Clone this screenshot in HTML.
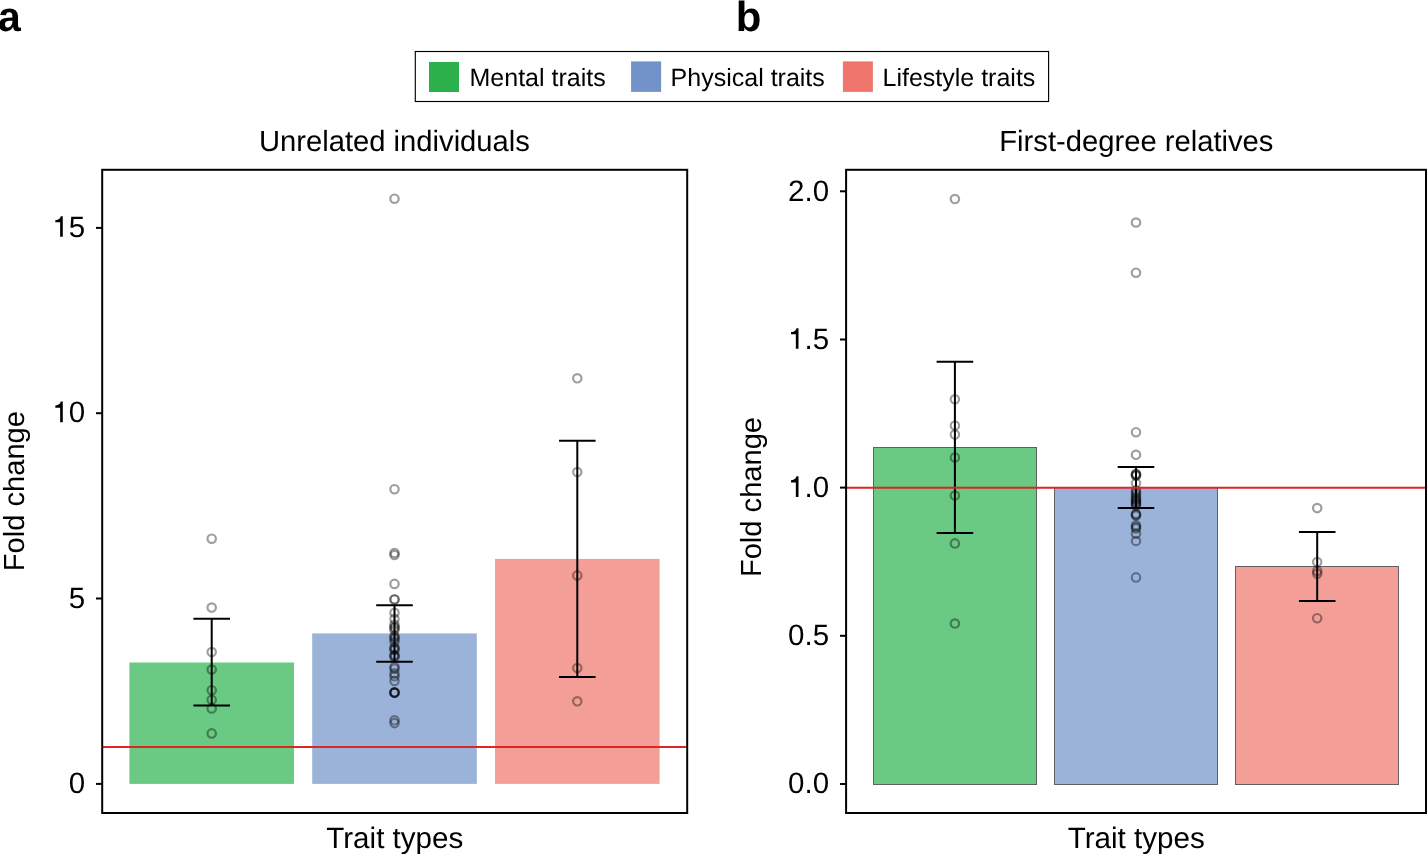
<!DOCTYPE html>
<html><head><meta charset="utf-8"><title>Fold change by trait type</title>
<style>html,body{margin:0;padding:0;background:#fff;width:1427px;height:854px;overflow:hidden}svg{display:block;will-change:transform;text-rendering:geometricPrecision}</style>
</head><body>
<svg width="1427" height="854" viewBox="0 0 1427 854" font-family='"Liberation Sans", sans-serif' fill="#000">
<rect width="1427" height="854" fill="#fff"/>
<text transform="translate(-2.0,30.6) scale(0.975,1)" font-size="42" font-weight="bold">a</text>
<text x="735.8" y="30.6" font-size="42" text-anchor="start" font-weight="bold" >b</text>
<rect x="415.3" y="51.5" width="633.3" height="50" fill="none" stroke="#000" stroke-width="1.15"/>
<rect x="429" y="62" width="30" height="30" fill="#2bb04b"/>
<rect x="631.1" y="61.4" width="30" height="30.5" fill="#7193c9"/>
<rect x="842.9" y="61.4" width="30" height="30.5" fill="#f0756d"/>
<text x="469.5" y="86" font-size="25" text-anchor="start" font-weight="normal" >Mental traits</text>
<text x="670.6" y="86" font-size="25" text-anchor="start" font-weight="normal" >Physical traits</text>
<text x="882.5" y="86" font-size="25" text-anchor="start" font-weight="normal" >Lifestyle traits</text>
<text x="258.94" y="150.8" font-size="29.2" text-anchor="start" font-weight="normal" >Unrelated individuals</text>
<text x="326.27" y="847.5" font-size="29.6" text-anchor="start" font-weight="normal" >Trait types</text>
<text transform="translate(24,571.2) rotate(-90)" font-size="29.1">Fold change</text>
<rect x="129.4" y="662.5" width="164.6" height="121.39999999999998" fill="#6ac982"/>
<rect x="312.2" y="633.4" width="164.6" height="150.5" fill="#9cb3d9"/>
<rect x="495" y="558.9" width="164.6" height="225.0" fill="#f49e98"/>
<circle cx="211.7" cy="538.7" r="4.2" fill="none" stroke="rgba(0,0,0,0.38)" stroke-width="2.2"/>
<circle cx="211.7" cy="607.6" r="4.2" fill="none" stroke="rgba(0,0,0,0.38)" stroke-width="2.2"/>
<circle cx="211.7" cy="652.1" r="4.2" fill="none" stroke="rgba(0,0,0,0.38)" stroke-width="2.2"/>
<circle cx="211.7" cy="669.5" r="4.2" fill="none" stroke="rgba(0,0,0,0.38)" stroke-width="2.2"/>
<circle cx="211.7" cy="690.2" r="4.2" fill="none" stroke="rgba(0,0,0,0.38)" stroke-width="2.2"/>
<circle cx="211.7" cy="699.8" r="4.2" fill="none" stroke="rgba(0,0,0,0.38)" stroke-width="2.2"/>
<circle cx="211.7" cy="708.4" r="4.2" fill="none" stroke="rgba(0,0,0,0.38)" stroke-width="2.2"/>
<circle cx="211.7" cy="733.4" r="4.2" fill="none" stroke="rgba(0,0,0,0.38)" stroke-width="2.2"/>
<circle cx="394.5" cy="198.7" r="4.2" fill="none" stroke="rgba(0,0,0,0.38)" stroke-width="2.2"/>
<circle cx="394.5" cy="489.2" r="4.2" fill="none" stroke="rgba(0,0,0,0.38)" stroke-width="2.2"/>
<circle cx="394.5" cy="553" r="4.2" fill="none" stroke="rgba(0,0,0,0.38)" stroke-width="2.2"/>
<circle cx="394.5" cy="555" r="4.2" fill="none" stroke="rgba(0,0,0,0.38)" stroke-width="2.2"/>
<circle cx="394.5" cy="583.9" r="4.2" fill="none" stroke="rgba(0,0,0,0.38)" stroke-width="2.2"/>
<circle cx="394.5" cy="599.2" r="4.2" fill="none" stroke="rgba(0,0,0,0.38)" stroke-width="2.2"/>
<circle cx="394.5" cy="599.7" r="4.2" fill="none" stroke="rgba(0,0,0,0.38)" stroke-width="2.2"/>
<circle cx="394.5" cy="612.8" r="4.2" fill="none" stroke="rgba(0,0,0,0.38)" stroke-width="2.2"/>
<circle cx="394.5" cy="618.9" r="4.2" fill="none" stroke="rgba(0,0,0,0.38)" stroke-width="2.2"/>
<circle cx="394.5" cy="624.5" r="4.2" fill="none" stroke="rgba(0,0,0,0.38)" stroke-width="2.2"/>
<circle cx="394.5" cy="627" r="4.2" fill="none" stroke="rgba(0,0,0,0.38)" stroke-width="2.2"/>
<circle cx="394.5" cy="628" r="4.2" fill="none" stroke="rgba(0,0,0,0.38)" stroke-width="2.2"/>
<circle cx="394.5" cy="630" r="4.2" fill="none" stroke="rgba(0,0,0,0.38)" stroke-width="2.2"/>
<circle cx="394.5" cy="636" r="4.2" fill="none" stroke="rgba(0,0,0,0.38)" stroke-width="2.2"/>
<circle cx="394.5" cy="637.5" r="4.2" fill="none" stroke="rgba(0,0,0,0.38)" stroke-width="2.2"/>
<circle cx="394.5" cy="639" r="4.2" fill="none" stroke="rgba(0,0,0,0.38)" stroke-width="2.2"/>
<circle cx="394.5" cy="642" r="4.2" fill="none" stroke="rgba(0,0,0,0.38)" stroke-width="2.2"/>
<circle cx="394.5" cy="647.5" r="4.2" fill="none" stroke="rgba(0,0,0,0.38)" stroke-width="2.2"/>
<circle cx="394.5" cy="648.5" r="4.2" fill="none" stroke="rgba(0,0,0,0.38)" stroke-width="2.2"/>
<circle cx="394.5" cy="650" r="4.2" fill="none" stroke="rgba(0,0,0,0.38)" stroke-width="2.2"/>
<circle cx="394.5" cy="655" r="4.2" fill="none" stroke="rgba(0,0,0,0.38)" stroke-width="2.2"/>
<circle cx="394.5" cy="656" r="4.2" fill="none" stroke="rgba(0,0,0,0.38)" stroke-width="2.2"/>
<circle cx="394.5" cy="657" r="4.2" fill="none" stroke="rgba(0,0,0,0.38)" stroke-width="2.2"/>
<circle cx="394.5" cy="666.9" r="4.2" fill="none" stroke="rgba(0,0,0,0.38)" stroke-width="2.2"/>
<circle cx="394.5" cy="668.7" r="4.2" fill="none" stroke="rgba(0,0,0,0.38)" stroke-width="2.2"/>
<circle cx="394.5" cy="673.4" r="4.2" fill="none" stroke="rgba(0,0,0,0.38)" stroke-width="2.2"/>
<circle cx="394.5" cy="676.2" r="4.2" fill="none" stroke="rgba(0,0,0,0.38)" stroke-width="2.2"/>
<circle cx="394.5" cy="680.9" r="4.2" fill="none" stroke="rgba(0,0,0,0.38)" stroke-width="2.2"/>
<circle cx="394.5" cy="692.4" r="4.2" fill="none" stroke="rgba(0,0,0,0.38)" stroke-width="2.2"/>
<circle cx="394.5" cy="692.6" r="4.2" fill="none" stroke="rgba(0,0,0,0.38)" stroke-width="2.2"/>
<circle cx="394.5" cy="692.6" r="4.2" fill="none" stroke="rgba(0,0,0,0.38)" stroke-width="2.2"/>
<circle cx="394.5" cy="692.8" r="4.2" fill="none" stroke="rgba(0,0,0,0.38)" stroke-width="2.2"/>
<circle cx="394.5" cy="720.3" r="4.2" fill="none" stroke="rgba(0,0,0,0.38)" stroke-width="2.2"/>
<circle cx="394.5" cy="723.1" r="4.2" fill="none" stroke="rgba(0,0,0,0.38)" stroke-width="2.2"/>
<circle cx="577.3" cy="378.3" r="4.2" fill="none" stroke="rgba(0,0,0,0.38)" stroke-width="2.2"/>
<circle cx="577.3" cy="472.1" r="4.2" fill="none" stroke="rgba(0,0,0,0.38)" stroke-width="2.2"/>
<circle cx="577.3" cy="575.4" r="4.2" fill="none" stroke="rgba(0,0,0,0.38)" stroke-width="2.2"/>
<circle cx="577.3" cy="668.1" r="4.2" fill="none" stroke="rgba(0,0,0,0.38)" stroke-width="2.2"/>
<circle cx="577.3" cy="701.3" r="4.2" fill="none" stroke="rgba(0,0,0,0.38)" stroke-width="2.2"/>
<path d="M193.39999999999998,618.7H230.0M211.7,618.7V705.6M193.39999999999998,705.6H230.0" stroke="#000" stroke-width="2" fill="none"/>
<path d="M376.2,605.3H412.8M394.5,605.3V661.7M376.2,661.7H412.8" stroke="#000" stroke-width="2" fill="none"/>
<path d="M559.0,440.8H595.5999999999999M577.3,440.8V676.9M559.0,676.9H595.5999999999999" stroke="#000" stroke-width="2" fill="none"/>
<line x1="102.2" x2="687.2" y1="747" y2="747" stroke="#db2624" stroke-width="2"/>
<rect x="102.2" y="169.8" width="585.0" height="643.2" fill="none" stroke="#000" stroke-width="2"/>
<line x1="96" x2="102.2" y1="783.9" y2="783.9" stroke="#000" stroke-width="2"/>
<text transform="translate(68.79,792.85)" font-size="29.5">0</text>
<line x1="96" x2="102.2" y1="598.5" y2="598.5" stroke="#000" stroke-width="2"/>
<text transform="translate(68.79,607.50)" font-size="29.5">5</text>
<line x1="96" x2="102.2" y1="413.2" y2="413.2" stroke="#000" stroke-width="2"/>
<path transform="translate(52.38,422.15) scale(29.5,-29.5)" d="M0.263,0H0.353V0.698H0.284C0.27,0.632 0.226,0.575 0.1,0.563V0.49H0.263Z"/>
<text transform="translate(68.79,422.15)" font-size="29.5">0</text>
<line x1="96" x2="102.2" y1="227.9" y2="227.9" stroke="#000" stroke-width="2"/>
<path transform="translate(52.38,236.80) scale(29.5,-29.5)" d="M0.263,0H0.353V0.698H0.284C0.27,0.632 0.226,0.575 0.1,0.563V0.49H0.263Z"/>
<text transform="translate(68.79,236.80)" font-size="29.5">5</text>
<text x="999.29" y="150.8" font-size="29.2" text-anchor="start" font-weight="normal" >First-degree relatives</text>
<text x="1067.73" y="847.5" font-size="29.6" text-anchor="start" font-weight="normal" >Trait types</text>
<text transform="translate(760.9,577.1) rotate(-90)" font-size="29.1">Fold change</text>
<rect x="873.5" y="447.5" width="163" height="337.0" fill="#6ac982" stroke="#625e62" stroke-width="1"/>
<rect x="1054.5" y="487.5" width="163" height="297.0" fill="#9cb3d9" stroke="#625e62" stroke-width="1"/>
<rect x="1235.5" y="566.5" width="163" height="218.0" fill="#f49e98" stroke="#625e62" stroke-width="1"/>
<circle cx="954.9" cy="199.05" r="4.2" fill="none" stroke="rgba(0,0,0,0.38)" stroke-width="2.2"/>
<circle cx="954.9" cy="399.3" r="4.2" fill="none" stroke="rgba(0,0,0,0.38)" stroke-width="2.2"/>
<circle cx="954.9" cy="425.6" r="4.2" fill="none" stroke="rgba(0,0,0,0.38)" stroke-width="2.2"/>
<circle cx="954.9" cy="434.6" r="4.2" fill="none" stroke="rgba(0,0,0,0.38)" stroke-width="2.2"/>
<circle cx="954.9" cy="457.5" r="4.2" fill="none" stroke="rgba(0,0,0,0.38)" stroke-width="2.2"/>
<circle cx="954.9" cy="495.5" r="4.2" fill="none" stroke="rgba(0,0,0,0.38)" stroke-width="2.2"/>
<circle cx="954.9" cy="543.4" r="4.2" fill="none" stroke="rgba(0,0,0,0.38)" stroke-width="2.2"/>
<circle cx="954.9" cy="623.5" r="4.2" fill="none" stroke="rgba(0,0,0,0.38)" stroke-width="2.2"/>
<circle cx="1136" cy="222.5" r="4.2" fill="none" stroke="rgba(0,0,0,0.38)" stroke-width="2.2"/>
<circle cx="1136" cy="272.7" r="4.2" fill="none" stroke="rgba(0,0,0,0.38)" stroke-width="2.2"/>
<circle cx="1136" cy="432.2" r="4.2" fill="none" stroke="rgba(0,0,0,0.38)" stroke-width="2.2"/>
<circle cx="1136" cy="454.8" r="4.2" fill="none" stroke="rgba(0,0,0,0.38)" stroke-width="2.2"/>
<circle cx="1136" cy="473.7" r="4.2" fill="none" stroke="rgba(0,0,0,0.38)" stroke-width="2.2"/>
<circle cx="1136" cy="474.5" r="4.2" fill="none" stroke="rgba(0,0,0,0.38)" stroke-width="2.2"/>
<circle cx="1136" cy="475" r="4.2" fill="none" stroke="rgba(0,0,0,0.38)" stroke-width="2.2"/>
<circle cx="1136" cy="475.8" r="4.2" fill="none" stroke="rgba(0,0,0,0.38)" stroke-width="2.2"/>
<circle cx="1136" cy="483.2" r="4.2" fill="none" stroke="rgba(0,0,0,0.38)" stroke-width="2.2"/>
<circle cx="1136" cy="490.5" r="4.2" fill="none" stroke="rgba(0,0,0,0.38)" stroke-width="2.2"/>
<circle cx="1136" cy="492.5" r="4.2" fill="none" stroke="rgba(0,0,0,0.38)" stroke-width="2.2"/>
<circle cx="1136" cy="494.7" r="4.2" fill="none" stroke="rgba(0,0,0,0.38)" stroke-width="2.2"/>
<circle cx="1136" cy="497" r="4.2" fill="none" stroke="rgba(0,0,0,0.38)" stroke-width="2.2"/>
<circle cx="1136" cy="499" r="4.2" fill="none" stroke="rgba(0,0,0,0.38)" stroke-width="2.2"/>
<circle cx="1136" cy="500" r="4.2" fill="none" stroke="rgba(0,0,0,0.38)" stroke-width="2.2"/>
<circle cx="1136" cy="501.5" r="4.2" fill="none" stroke="rgba(0,0,0,0.38)" stroke-width="2.2"/>
<circle cx="1136" cy="503" r="4.2" fill="none" stroke="rgba(0,0,0,0.38)" stroke-width="2.2"/>
<circle cx="1136" cy="504.2" r="4.2" fill="none" stroke="rgba(0,0,0,0.38)" stroke-width="2.2"/>
<circle cx="1136" cy="505.5" r="4.2" fill="none" stroke="rgba(0,0,0,0.38)" stroke-width="2.2"/>
<circle cx="1136" cy="513.8" r="4.2" fill="none" stroke="rgba(0,0,0,0.38)" stroke-width="2.2"/>
<circle cx="1136" cy="514.7" r="4.2" fill="none" stroke="rgba(0,0,0,0.38)" stroke-width="2.2"/>
<circle cx="1136" cy="515.6" r="4.2" fill="none" stroke="rgba(0,0,0,0.38)" stroke-width="2.2"/>
<circle cx="1136" cy="525.3" r="4.2" fill="none" stroke="rgba(0,0,0,0.38)" stroke-width="2.2"/>
<circle cx="1136" cy="527" r="4.2" fill="none" stroke="rgba(0,0,0,0.38)" stroke-width="2.2"/>
<circle cx="1136" cy="528.4" r="4.2" fill="none" stroke="rgba(0,0,0,0.38)" stroke-width="2.2"/>
<circle cx="1136" cy="533.7" r="4.2" fill="none" stroke="rgba(0,0,0,0.38)" stroke-width="2.2"/>
<circle cx="1136" cy="541" r="4.2" fill="none" stroke="rgba(0,0,0,0.38)" stroke-width="2.2"/>
<circle cx="1136" cy="577.4" r="4.2" fill="none" stroke="rgba(0,0,0,0.38)" stroke-width="2.2"/>
<circle cx="1317.2" cy="508.1" r="4.2" fill="none" stroke="rgba(0,0,0,0.38)" stroke-width="2.2"/>
<circle cx="1317.2" cy="562" r="4.2" fill="none" stroke="rgba(0,0,0,0.38)" stroke-width="2.2"/>
<circle cx="1317.2" cy="571.1" r="4.2" fill="none" stroke="rgba(0,0,0,0.38)" stroke-width="2.2"/>
<circle cx="1317.2" cy="573.8" r="4.2" fill="none" stroke="rgba(0,0,0,0.38)" stroke-width="2.2"/>
<circle cx="1317.2" cy="618.2" r="4.2" fill="none" stroke="rgba(0,0,0,0.38)" stroke-width="2.2"/>
<path d="M936.6,361.7H973.1999999999999M954.9,361.7V533.0M936.6,533.0H973.1999999999999" stroke="#000" stroke-width="2" fill="none"/>
<path d="M1117.7,466.9H1154.3M1136,466.9V508M1117.7,508H1154.3" stroke="#000" stroke-width="2" fill="none"/>
<path d="M1298.9,532.1H1335.5M1317.2,532.1V601M1298.9,601H1335.5" stroke="#000" stroke-width="2" fill="none"/>
<line x1="846.1" x2="1426" y1="487.8" y2="487.8" stroke="#db2624" stroke-width="2"/>
<rect x="846.1" y="169.8" width="579.9" height="643.2" fill="none" stroke="#000" stroke-width="2"/>
<line x1="840" x2="846.1" y1="784.0" y2="784.0" stroke="#000" stroke-width="2"/>
<text transform="translate(788.09,793.25)" font-size="29.5">0</text>
<text transform="translate(804.50,793.25)" font-size="29.5">.</text>
<text transform="translate(812.69,793.25)" font-size="29.5">0</text>
<line x1="840" x2="846.1" y1="635.8" y2="635.8" stroke="#000" stroke-width="2"/>
<text transform="translate(788.09,645.08)" font-size="29.5">0</text>
<text transform="translate(804.50,645.08)" font-size="29.5">.</text>
<text transform="translate(812.69,645.08)" font-size="29.5">5</text>
<line x1="840" x2="846.1" y1="487.6" y2="487.6" stroke="#000" stroke-width="2"/>
<path transform="translate(788.09,496.90) scale(29.5,-29.5)" d="M0.263,0H0.353V0.698H0.284C0.27,0.632 0.226,0.575 0.1,0.563V0.49H0.263Z"/>
<text transform="translate(804.50,496.90)" font-size="29.5">.</text>
<text transform="translate(812.69,496.90)" font-size="29.5">0</text>
<line x1="840" x2="846.1" y1="339.5" y2="339.5" stroke="#000" stroke-width="2"/>
<path transform="translate(788.09,348.72) scale(29.5,-29.5)" d="M0.263,0H0.353V0.698H0.284C0.27,0.632 0.226,0.575 0.1,0.563V0.49H0.263Z"/>
<text transform="translate(804.50,348.72)" font-size="29.5">.</text>
<text transform="translate(812.69,348.72)" font-size="29.5">5</text>
<line x1="840" x2="846.1" y1="191.3" y2="191.3" stroke="#000" stroke-width="2"/>
<text transform="translate(788.09,200.55)" font-size="29.5">2</text>
<text transform="translate(804.50,200.55)" font-size="29.5">.</text>
<text transform="translate(812.69,200.55)" font-size="29.5">0</text>
</svg>
</body></html>
